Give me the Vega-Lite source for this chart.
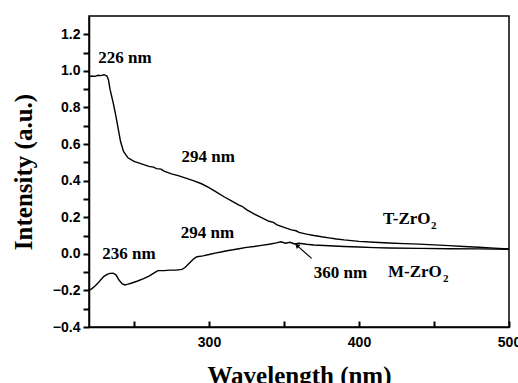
{
  "$schema": "https://vega.github.io/schema/vega-lite/v6.json",
  "autosize": "none",
  "padding": {"left": 89, "top": 16, "right": 9, "bottom": 56},
  "width": 420,
  "height": 311,
  "background": "white",
  "config": {
    "view": {"stroke": "black", "strokeWidth": 1.5},
    "axis": {"domainColor": "black", "domainWidth": 1.5, "grid": false,
             "labelFont": "Liberation Sans", "labelFontWeight": "bold", "labelFontSize": 14, "labelColor": "black",
             "titleFont": "Liberation Serif", "titleFontWeight": "bold", "titleFontSize": 25, "titleColor": "black"}
  },
  "datasets": {
    "curves": [
      {"w":220,"v":0.968,"s":"T"},{"w":222,"v":0.972,"s":"T"},{"w":224,"v":0.97,"s":"T"},{"w":226,"v":0.976,"s":"T"},{"w":228,"v":0.974,"s":"T"},{"w":230,"v":0.979,"s":"T"},{"w":232,"v":0.972,"s":"T"},{"w":233,"v":0.95,"s":"T"},{"w":234,"v":0.9,"s":"T"},{"w":236,"v":0.83,"s":"T"},{"w":238,"v":0.75,"s":"T"},{"w":240,"v":0.66,"s":"T"},{"w":241,"v":0.615,"s":"T"},{"w":243,"v":0.56,"s":"T"},{"w":246,"v":0.525,"s":"T"},{"w":250,"v":0.505,"s":"T"},{"w":255,"v":0.492,"s":"T"},{"w":260,"v":0.478,"s":"T"},{"w":263,"v":0.474,"s":"T"},{"w":265,"v":0.466,"s":"T"},{"w":268,"v":0.463,"s":"T"},{"w":270,"v":0.452,"s":"T"},{"w":275,"v":0.437,"s":"T"},{"w":280,"v":0.426,"s":"T"},{"w":285,"v":0.412,"s":"T"},{"w":290,"v":0.399,"s":"T"},{"w":295,"v":0.383,"s":"T"},{"w":300,"v":0.362,"s":"T"},{"w":305,"v":0.337,"s":"T"},{"w":310,"v":0.312,"s":"T"},{"w":315,"v":0.29,"s":"T"},{"w":320,"v":0.266,"s":"T"},{"w":322,"v":0.26,"s":"T"},{"w":325,"v":0.242,"s":"T"},{"w":330,"v":0.218,"s":"T"},{"w":335,"v":0.198,"s":"T"},{"w":340,"v":0.178,"s":"T"},{"w":343,"v":0.172,"s":"T"},{"w":345,"v":0.16,"s":"T"},{"w":350,"v":0.145,"s":"T"},{"w":355,"v":0.131,"s":"T"},{"w":358,"v":0.126,"s":"T"},{"w":360,"v":0.117,"s":"T"},{"w":365,"v":0.108,"s":"T"},{"w":370,"v":0.1,"s":"T"},{"w":375,"v":0.093,"s":"T"},{"w":380,"v":0.087,"s":"T"},{"w":385,"v":0.081,"s":"T"},{"w":390,"v":0.076,"s":"T"},{"w":395,"v":0.072,"s":"T"},{"w":400,"v":0.068,"s":"T"},{"w":410,"v":0.063,"s":"T"},{"w":420,"v":0.059,"s":"T"},{"w":430,"v":0.056,"s":"T"},{"w":440,"v":0.053,"s":"T"},{"w":450,"v":0.049,"s":"T"},{"w":460,"v":0.045,"s":"T"},{"w":470,"v":0.04,"s":"T"},{"w":480,"v":0.036,"s":"T"},{"w":490,"v":0.031,"s":"T"},{"w":500,"v":0.026,"s":"T"},
      {"w":220,"v":-0.2,"s":"M"},{"w":222,"v":-0.19,"s":"M"},{"w":224,"v":-0.176,"s":"M"},{"w":226,"v":-0.16,"s":"M"},{"w":228,"v":-0.14,"s":"M"},{"w":230,"v":-0.123,"s":"M"},{"w":232,"v":-0.112,"s":"M"},{"w":234,"v":-0.107,"s":"M"},{"w":236,"v":-0.106,"s":"M"},{"w":238,"v":-0.115,"s":"M"},{"w":240,"v":-0.143,"s":"M"},{"w":242,"v":-0.163,"s":"M"},{"w":244,"v":-0.17,"s":"M"},{"w":246,"v":-0.166,"s":"M"},{"w":248,"v":-0.161,"s":"M"},{"w":252,"v":-0.15,"s":"M"},{"w":256,"v":-0.137,"s":"M"},{"w":260,"v":-0.122,"s":"M"},{"w":264,"v":-0.101,"s":"M"},{"w":266,"v":-0.092,"s":"M"},{"w":270,"v":-0.092,"s":"M"},{"w":274,"v":-0.089,"s":"M"},{"w":278,"v":-0.089,"s":"M"},{"w":282,"v":-0.085,"s":"M"},{"w":284,"v":-0.075,"s":"M"},{"w":287,"v":-0.05,"s":"M"},{"w":290,"v":-0.026,"s":"M"},{"w":292,"v":-0.016,"s":"M"},{"w":296,"v":-0.011,"s":"M"},{"w":300,"v":-0.004,"s":"M"},{"w":304,"v":0.004,"s":"M"},{"w":308,"v":0.01,"s":"M"},{"w":312,"v":0.017,"s":"M"},{"w":316,"v":0.022,"s":"M"},{"w":320,"v":0.028,"s":"M"},{"w":325,"v":0.035,"s":"M"},{"w":330,"v":0.04,"s":"M"},{"w":335,"v":0.046,"s":"M"},{"w":340,"v":0.052,"s":"M"},{"w":345,"v":0.06,"s":"M"},{"w":348,"v":0.066,"s":"M"},{"w":351,"v":0.058,"s":"M"},{"w":354,"v":0.063,"s":"M"},{"w":357,"v":0.054,"s":"M"},{"w":360,"v":0.058,"s":"M"},{"w":365,"v":0.052,"s":"M"},{"w":370,"v":0.048,"s":"M"},{"w":380,"v":0.044,"s":"M"},{"w":390,"v":0.04,"s":"M"},{"w":400,"v":0.037,"s":"M"},{"w":410,"v":0.034,"s":"M"},{"w":420,"v":0.032,"s":"M"},{"w":440,"v":0.03,"s":"M"},{"w":460,"v":0.028,"s":"M"},{"w":480,"v":0.027,"s":"M"},{"w":500,"v":0.025,"s":"M"}
    ],
    "notes": [
      {"w":244,"v":1.07,"t":"226 nm"},
      {"w":299.5,"v":0.53,"t":"294 nm"},
      {"w":299,"v":0.112,"t":"294 nm"},
      {"w":246.7,"v":0.0,"t":"236 nm"},
      {"w":387.7,"v":-0.107,"t":"360 nm"}
    ],
    "names": [
      {"w":416,"v":0.19,"t":"T-ZrO"},
      {"w":419.3,"v":-0.097,"t":"M-ZrO"}
    ],
    "subs": [
      {"w":448,"v":0.152,"t":"2"},
      {"w":456,"v":-0.135,"t":"2"}
    ],
    "arrow": [
      {"w":358.6,"v":0.046,"w2":368.4,"v2":-0.025}
    ]
  },
  "encoding": {
    "x": {"field": "w", "type": "quantitative", "scale": {"domain": [220, 500], "nice": false, "zero": false},
          "axis": {"title": "Wavelength (nm)", "values": [250, 300, 350, 400, 450, 500],
                   "ticks": true, "tickSize": -6, "tickColor": "black", "tickWidth": 2, "tickCap": "butt",
                   "labelExpr": "datum.value % 100 === 0 ? datum.label : ''",
                   "labelPadding": 14, "titlePadding": 14, "labelFlush": false, "labelOverlap": false}},
    "y": {"field": "v", "type": "quantitative", "scale": {"domain": [-0.4, 1.3], "nice": false, "zero": false},
          "axis": {"title": "Intensity (a.u.)", "format": ".1f",
                   "values": [-0.4, -0.3, -0.2, -0.1, 0, 0.1, 0.2, 0.3, 0.4, 0.5, 0.6, 0.7, 0.8, 0.9, 1.0, 1.1, 1.2],
                   "ticks": true, "tickSize": 6, "tickColor": "black", "tickWidth": 2, "tickCap": "butt",
                   "labelExpr": "abs(round(datum.value * 10)) % 2 === 0 ? datum.label : ''",
                   "labelPadding": 3, "titlePadding": 16, "labelOverlap": false, "labelBound": false}}
  },
  "layer": [
    {
      "data": {"name": "curves"},
      "mark": {"type": "line", "color": "black", "strokeWidth": 1.4, "clip": true},
      "encoding": {"detail": {"field": "s"}}
    },
    {
      "data": {"name": "notes"},
      "mark": {"type": "text", "font": "Liberation Serif", "fontWeight": "bold", "fontSize": 17, "baseline": "middle", "align": "center", "color": "black"},
      "encoding": {"text": {"field": "t"}}
    },
    {
      "data": {"name": "names"},
      "mark": {"type": "text", "font": "Liberation Serif", "fontWeight": "bold", "fontSize": 17, "baseline": "middle", "align": "left", "color": "black"},
      "encoding": {"text": {"field": "t"}}
    },
    {
      "data": {"name": "subs"},
      "mark": {"type": "text", "font": "Liberation Serif", "fontWeight": "bold", "fontSize": 11, "baseline": "middle", "align": "left", "color": "black"},
      "encoding": {"text": {"field": "t"}}
    },
    {
      "data": {"name": "arrow"},
      "mark": {"type": "rule", "color": "black", "strokeWidth": 1.2},
      "encoding": {"x2": {"field": "w2"}, "y2": {"field": "v2"}}
    },
    {
      "data": {"name": "arrow"},
      "mark": {"type": "point", "shape": "triangle-up", "filled": true, "color": "black", "size": 30, "angle": 312, "opacity": 1},
      "encoding": {}
    }
  ]
}
